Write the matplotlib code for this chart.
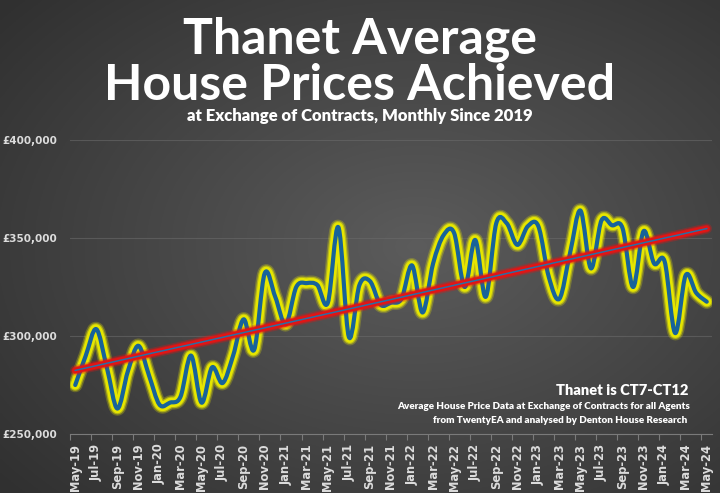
import numpy as np
import matplotlib.pyplot as plt
from matplotlib.path import Path
from matplotlib.patches import PathPatch

# monthly average price, May-19 .. May-24
months = ['May-19', 'Jun-19', 'Jul-19', 'Aug-19', 'Sep-19', 'Oct-19', 'Nov-19', 'Dec-19',
          'Jan-20', 'Feb-20', 'Mar-20', 'Apr-20', 'May-20', 'Jun-20', 'Jul-20', 'Aug-20',
          'Sep-20', 'Oct-20', 'Nov-20', 'Dec-20', 'Jan-21', 'Feb-21', 'Mar-21', 'Apr-21',
          'May-21', 'Jun-21', 'Jul-21', 'Aug-21', 'Sep-21', 'Oct-21', 'Nov-21', 'Dec-21',
          'Jan-22', 'Feb-22', 'Mar-22', 'Apr-22', 'May-22', 'Jun-22', 'Jul-22', 'Aug-22',
          'Sep-22', 'Oct-22', 'Nov-22', 'Dec-22', 'Jan-23', 'Feb-23', 'Mar-23', 'Apr-23',
          'May-23', 'Jun-23', 'Jul-23', 'Aug-23', 'Sep-23', 'Oct-23', 'Nov-23', 'Dec-23',
          'Jan-24', 'Feb-24', 'Mar-24', 'Apr-24', 'May-24']
prices = [275000, 290000, 303500, 284000, 263000, 282000, 295000, 280000,
          265000, 266000, 269000, 290000, 266000, 284000, 276000, 290000,
          308500, 293000, 332000, 320000, 306000, 325000, 327000, 326000,
          317000, 355500, 299500, 326000, 328000, 316000, 317000, 319000,
          336000, 312000, 337000, 351500, 352500, 325000, 349000, 320000,
          357500, 357500, 346500, 356000, 356000, 330000, 319000, 342000,
          364000, 334500, 359000, 356500, 355000, 325000, 353500, 337000,
          338000, 301500, 331000, 322000, 317500]

y_ticks = [250000, 300000, 350000, 400000]
y_labels = ['£250,000', '£300,000', '£350,000', '£400,000']

FONT = 'Lato'
AXFONT = 'DejaVu Sans'
LABEL_COL = '#dcdcdc'


def smooth_path(x, y):
    # excel style smoothed line: catmull-rom segments as cubic beziers
    pts = np.column_stack([x, y]).astype(float)
    n = len(pts)
    verts = [pts[0]]
    codes = [Path.MOVETO]
    for i in range(n - 1):
        p0 = pts[max(i - 1, 0)]
        p1 = pts[i]
        p2 = pts[i + 1]
        p3 = pts[min(i + 2, n - 1)]
        c1 = p1 + (p2 - p0) / 6
        c2 = p2 - (p3 - p1) / 6
        verts += [c1, c2, p2]
        codes += [Path.CURVE4] * 3
    return Path(verts, codes)


fig = plt.figure(figsize=(7.2, 4.93), dpi=100)

# radial gradient background
bg = fig.add_axes([0, 0, 1, 1], zorder=0)
gx, gy = np.meshgrid(np.linspace(0, 1, 400), np.linspace(0, 1, 300))
r = np.sqrt(((gx - 0.58) / 0.75) ** 2 + ((gy - 0.5) / 0.75) ** 2)
r = np.clip(r, 0, 1)
shade = 0.36 - 0.17 * r
bg.imshow(np.dstack([shade, shade, shade]), extent=[0, 1, 0, 1], aspect='auto', origin='lower')
bg.axis('off')

ax = fig.add_axes([0.0972, 0.1197, 0.8917, 0.5963], zorder=1)
ax.set_facecolor('none')
x = np.arange(len(prices))

# data line with yellow glow
path = smooth_path(x, prices)
for lw, col, a in [(10.5, '#f0f000', 0.25), (8.5, '#f0f000', 0.5), (6.8, '#e6e600', 1.0),
                   (3.0, '#17639a', 1.0)]:
    ax.add_patch(PathPatch(path, fill=False, lw=lw, ec=col, alpha=a,
                           capstyle='round', joinstyle='round', zorder=3))

# linear trend
slope, icept = np.polyfit(x, prices, 1)
trend = slope * x + icept
for lw, a in [(7.5, 0.3), (5.5, 0.6), (4.2, 1.0)]:
    ax.plot(x, trend, color='#e31414', lw=lw, alpha=a, solid_capstyle='round', zorder=4)
ax.plot(x, trend, color='#2a6fa5', lw=1.1, zorder=5)

ax.set_xlim(-0.5, len(prices) - 0.5)
ax.set_ylim(250000, 400000)
for s in ['top', 'right', 'left']:
    ax.spines[s].set_visible(False)
ax.spines['bottom'].set_color('#7a7a7a')
ax.spines['bottom'].set_linewidth(0.8)

ax.set_yticks(y_ticks)
ax.set_yticklabels(y_labels, fontfamily=AXFONT, fontweight='bold', fontsize=7.5, color=LABEL_COL)
ax.tick_params(axis='y', length=0, pad=9)
ax.grid(axis='y', color='#6a6a6a', lw=0.8, alpha=0.6)

ax.set_xticks(x[::2])
ax.set_xticklabels(months[::2], rotation=90, fontfamily=AXFONT, fontweight='bold',
                   fontsize=8.3, color=LABEL_COL)
ax.set_xticks(np.arange(-0.5, len(prices), 2), minor=True)
ax.tick_params(axis='x', which='major', length=0, pad=7)
ax.tick_params(axis='x', which='minor', length=4, color='#7a7a7a', width=0.8)

# titles
fig.text(0.5, 1 - 53 / 493, 'Thanet Average', ha='center', va='baseline', color='white',
         fontfamily=FONT, fontweight='bold', fontsize=36)
fig.text(0.5, 1 - 100 / 493, 'House Prices Achieved', ha='center', va='baseline', color='white',
         fontfamily=FONT, fontweight='bold', fontsize=36)
fig.text(0.5, 1 - 121 / 493, 'at Exchange of Contracts, Monthly Since 2019', ha='center',
         va='baseline', color='white', fontfamily=FONT, fontweight='heavy', fontsize=12)

# source notes
fig.text(688 / 720, 1 - 395 / 493, 'Thanet is CT7-CT12', ha='right', va='baseline',
         color='white', fontfamily=FONT, fontweight='heavy', fontsize=10.5)
fig.text(690 / 720, 1 - 409 / 493, 'Average House Price Data at Exchange of Contracts for all Agents',
         ha='right', va='baseline', color='white', fontfamily=FONT, fontweight='heavy', fontsize=7.1)
fig.text(687 / 720, 1 - 423 / 493, 'from TwentyEA and analysed by Denton House Research',
         ha='right', va='baseline', color='white', fontfamily=FONT, fontweight='heavy', fontsize=7.1)

fig.savefig('out.png', dpi=100)
